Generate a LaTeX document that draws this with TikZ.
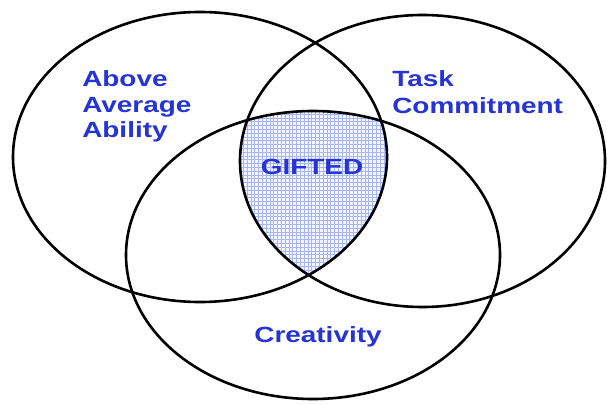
\documentclass[tikz,border=0pt]{standalone}
\usepackage{fontspec}
\setmainfont{Liberation Sans}
\definecolor{txtblue}{RGB}{38,52,212}
\definecolor{gridbg}{RGB}{244,246,255}
\definecolor{gridln}{RGB}{168,182,246}
\tikzset{
  ring/.style={draw=black, line width=2.6pt},
  lbl/.style={text=txtblue, font=\bfseries\fontsize{22}{25}\selectfont, inner sep=0pt, xscale=1.27},
}
\begin{document}
\begin{tikzpicture}[x=1pt,y=-1pt]
\useasboundingbox[fill=white] (0,0) rectangle (607,404);
% shaded intersection
\begin{scope}
  \clip (200,157) ellipse [x radius=187pt, y radius=145pt];
  \clip (422.5,161) ellipse [x radius=182.5pt, y radius=146pt];
  \clip (313,255) ellipse [x radius=187pt, y radius=144pt];
  \fill[gridbg] (0,0) rectangle (607,404);
  \draw[gridln, line width=0.45pt, step=3.8pt] (0,0) grid (607,404);
\end{scope}
% ellipses
\draw[ring] (200,157) ellipse [x radius=187pt, y radius=145pt];
\draw[ring] (422.5,161) ellipse [x radius=182.5pt, y radius=146pt];
\draw[ring] (313,255) ellipse [x radius=187pt, y radius=144pt];
% labels
\node[lbl, anchor=base west] (a1) at (82,86) {Above};
\node[lbl, anchor=base west] (a2) at (82,112) {Average};
\node[lbl, anchor=base west] (a3) at (82,137) {Ability};
\node[lbl, anchor=base west] (t1) at (392,86) {Task};
\node[lbl, anchor=base west] (t2) at (392,113) {Commitment};
\node[lbl, anchor=base] (g) at (312,174) {GIFTED};
\node[lbl, anchor=base] (c) at (318,342) {Creativity};
\end{tikzpicture}
\end{document}
